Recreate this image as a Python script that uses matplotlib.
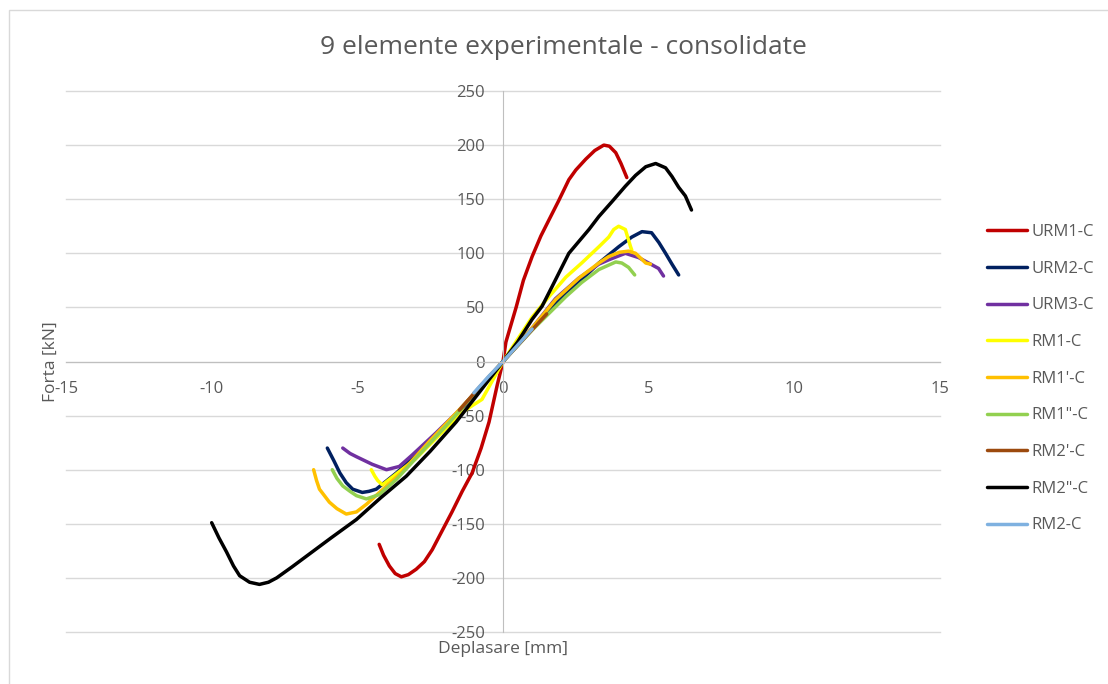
import matplotlib.pyplot as plt
from matplotlib.patches import Rectangle

plt.rcParams['font.family'] = ['Open Sans', 'DejaVu Sans']
plt.rcParams['axes.unicode_minus'] = False

# displacement [mm] / force [kN]
urm1_x = [-4.25, -4.1, -3.9, -3.7, -3.49, -3.25, -2.98, -2.7, -2.43, -2.1, -1.75, -1.4, -1.06, -0.75, -0.48, -0.2,
          0, 0.1, 0.45, 0.7, 1.0, 1.3, 1.58, 1.9, 2.26, 2.5, 2.84, 3.15, 3.46, 3.65, 3.87, 4.05, 4.25]
urm1_y = [-169, -179, -189, -196, -199, -197, -192, -185, -174, -157, -139, -120, -103, -80, -56, -22,
          0, 18, 50, 75, 97, 116, 131, 148, 168, 177, 187, 195, 200, 199, 193, 183, 170]

urm2_x = [-6.03, -5.8, -5.6, -5.38, -5.16, -4.83, -4.6, -4.35, -3.66, -2.7, -1.8, -0.9, 0,
          1.0, 2.16, 2.6, 3.29, 3.97, 4.42, 4.77, 5.1, 5.35, 5.58, 5.8, 6.03]
urm2_y = [-80, -92, -103, -112, -118, -121, -120, -118, -103, -80, -55, -28, 0,
          30, 64, 73, 91, 106, 115, 120, 119, 110, 100, 90, 80]

urm3_x = [-5.5, -5.25, -5.03, -4.49, -4.0, -3.56, -3.1, -2.3, -1.5, -0.7, 0,
          1.0, 1.8, 2.6, 3.29, 3.63, 4.2, 4.66, 5.0, 5.34, 5.51]
urm3_y = [-80, -85, -88, -95, -100, -97, -86, -66, -45, -21, 0,
          31, 58, 77, 90, 94, 100, 96, 91, 86, 79]

rm1_x = [-4.52, -4.4, -4.3, -4.14, -3.0, -2.0, -1.3, -0.72, 0, 1.0, 1.58, 2.16, 2.7, 3.29, 3.63, 3.8, 3.97, 4.2, 4.38, 4.42]
rm1_y = [-100, -106, -110, -114, -90, -63, -45, -35, 0, 41, 60, 78, 91, 106, 115, 122, 125, 122, 106, 103]

rm1p_x = [-6.5, -6.4, -6.3, -5.96, -5.7, -5.38, -5.03, -4.69, -3.5, -2.5, -1.2, 0,
          1.0, 1.8, 2.6, 3.29, 3.63, 4.0, 4.31, 4.55, 4.9, 5.06]
rm1p_y = [-100, -110, -118, -130, -136, -141, -139, -132, -103, -73, -36, 0,
          31, 57, 77, 91, 97, 101, 102, 100, 91, 90]

rm1pp_x = [-5.86, -5.7, -5.5, -5.25, -5.03, -4.69, -4.25, -3.66, -2.7, -1.8, -0.9, 0,
           1.0, 2.16, 2.7, 3.29, 3.87, 4.08, 4.31, 4.52]
rm1pp_y = [-100, -108, -115, -120, -124, -127, -123, -109, -81, -55, -27, 0,
           29, 60, 73, 85, 92, 91, 87, 80]

# RM2'-C and RM2-C are hidden under the other curves in the reference
rm2p_x = [-1.5, -0.75, 0, 0.75, 1.5]
rm2p_y = [-45, -22, 0, 22, 44]

rm2pp_x = [-10.0, -9.75, -9.49, -9.25, -9.04, -8.7, -8.36, -8.05, -7.77, -7.25, -6.75, -5.9, -5.03, -4.2,
           -3.32, -2.5, -1.61, -0.8, 0, 0.5, 1.0, 1.34, 1.68, 2.26, 2.95, 3.29, 3.75, 4.2, 4.55, 4.9,
           5.24, 5.58, 5.8, 6.03, 6.26, 6.47]
rm2pp_y = [-149, -163, -176, -189, -198, -204, -206, -204, -200, -190, -180, -163, -146, -126,
           -106, -83, -56, -28, 0, 18, 39, 51, 69, 100, 122, 134, 148, 162, 172, 180,
           183, 179, 171, 161, 153, 140]

rm2_x = [-1.0, -0.5, 0, 0.5, 1.0]
rm2_y = [-29, -14, 0, 15, 30]

series = [
    ("URM1-C", urm1_x, urm1_y, "#c00000"),
    ("URM2-C", urm2_x, urm2_y, "#002060"),
    ("URM3-C", urm3_x, urm3_y, "#7030a0"),
    ("RM1-C", rm1_x, rm1_y, "#ffff00"),
    ("RM1'-C", rm1p_x, rm1p_y, "#ffc000"),
    ("RM1\"-C", rm1pp_x, rm1pp_y, "#92d050"),
    ("RM2'-C", rm2p_x, rm2p_y, "#9c4a0e"),
    ("RM2\"-C", rm2pp_x, rm2pp_y, "#000000"),
    ("RM2-C", rm2_x, rm2_y, "#7fb1e0"),
]

x_ticks = [-15, -10, -5, 0, 5, 10, 15]
y_ticks = [-250, -200, -150, -100, -50, 0, 50, 100, 150, 200, 250]

grey = "#595959"

fig = plt.figure(figsize=(11.08, 6.84), dpi=100)
fig.patches.append(Rectangle((9 / 1108, -0.1), 1.2, (684 - 10) / 684 + 0.1,
                             transform=fig.transFigure, fill=False,
                             edgecolor="#d9d9d9", linewidth=1))
ax = fig.add_axes([66 / 1108, (684 - 632) / 684, 874 / 1108, 541 / 684])

for yv in y_ticks:
    ax.axhline(yv, color="#d9d9d9", linewidth=1, zorder=0, clip_on=False)

for name, xs, ys, col in series:
    ax.plot(xs, ys, color=col, linewidth=2.5, label=name,
            solid_joinstyle="round", solid_capstyle="round")

ax.set_xlim(-15, 15)
ax.set_ylim(-250, 250)
ax.set_xticks(x_ticks)
ax.set_yticks(y_ticks)

for s in ["top", "right"]:
    ax.spines[s].set_visible(False)
ax.spines["left"].set_position(("data", 0))
ax.spines["bottom"].set_position(("data", 0))
ax.spines["left"].set_color("#bfbfbf")
ax.spines["bottom"].set_color("#bfbfbf")
ax.tick_params(length=0, labelsize=12, labelcolor=grey)
ax.tick_params(axis="x", pad=14)
ax.tick_params(axis="y", pad=13)

fig.text(563 / 1108, 1 - 48 / 684, "9 elemente experimentale - consolidate",
         fontsize=19, color=grey, ha="center", va="center")
ax.set_xlabel("Deplasare [mm]", fontsize=12.5, color=grey)
ax.xaxis.set_label_coords(0.5, -0.016)
ax.xaxis.label.set_va("top")
ax.set_ylabel("Forta [kN]", fontsize=12.5, color=grey)
ax.yaxis.set_label_coords(-0.008, 0.5)

leg = ax.legend(loc="center left", bbox_to_anchor=(1.046, 0.468), frameon=False,
                fontsize=12, labelspacing=1.24, handlelength=2.4, handletextpad=0.25,
                borderaxespad=0.0)
for t in leg.get_texts():
    t.set_color(grey)

fig.savefig("out.png", dpi=100)
